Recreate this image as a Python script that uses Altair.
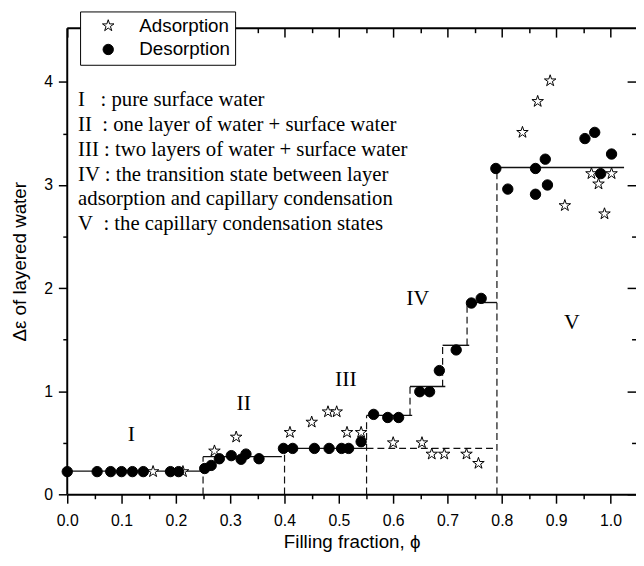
import altair as alt
import pandas as pd

# ---------------- data ----------------
des_x = [0.0, 0.055, 0.08, 0.10, 0.12, 0.14, 0.19, 0.205,
         0.253, 0.265, 0.28, 0.302, 0.32, 0.329, 0.353,
         0.398, 0.415, 0.455, 0.482, 0.505, 0.518, 0.541,
         0.564, 0.59, 0.61,
         0.649, 0.667, 0.685, 0.716, 0.744, 0.762,
         0.789, 0.811, 0.862, 0.862, 0.88, 0.884, 0.953, 0.971, 0.982, 1.002]
des_y = [0.22, 0.22, 0.22, 0.22, 0.22, 0.22, 0.22, 0.22,
         0.25, 0.28, 0.345, 0.375, 0.34, 0.39, 0.345,
         0.445, 0.445, 0.445, 0.445, 0.445, 0.445, 0.51,
         0.775, 0.745, 0.745,
         0.995, 0.995, 1.20, 1.40, 1.855, 1.90,
         3.16, 2.96, 3.16, 2.91, 3.25, 3.00, 3.45, 3.51, 3.11, 3.30]

ads_x = [0.158, 0.213, 0.271, 0.311, 0.41, 0.45, 0.48, 0.496, 0.515, 0.541,
         0.60, 0.653, 0.671, 0.694, 0.735, 0.757,
         0.838, 0.866, 0.889, 0.916, 0.965, 0.978, 0.989, 1.002]
ads_y = [0.22, 0.22, 0.42, 0.555, 0.60, 0.70, 0.80, 0.80, 0.60, 0.60,
         0.50, 0.50, 0.39, 0.39, 0.39, 0.30,
         3.51, 3.81, 4.01, 2.80, 3.11, 3.01, 2.72, 3.11]

series_names = ["Adsorption", "Desorption"]

# step levels (solid) of the layered-water model
solid_x1 = [0.0, 0.25, 0.40, 0.551, 0.631, 0.691, 0.736, 0.789]
solid_x2 = [0.25, 0.395, 0.551, 0.635, 0.696, 0.740, 0.791, 1.025]
solid_y = [0.225, 0.365, 0.445, 0.765, 1.045, 1.445, 1.86, 3.17]

# dashed guide lines
dash_x1 = [0.25, 0.40, 0.551, 0.551, 0.631, 0.691, 0.736, 0.791]
dash_x2 = [0.25, 0.40, 0.551, 0.791, 0.631, 0.691, 0.736, 0.791]
dash_y1 = [0.0, 0.0, 0.0, 0.445, 0.765, 1.045, 1.445, 0.0]
dash_y2 = [0.365, 0.445, 0.765, 0.445, 1.045, 1.445, 1.86, 3.17]

NB = "\u00a0"
note_lines = [
    "I" + NB + NB + " : pure surface water",
    "II" + NB + " : one layer of water + surface water",
    "III : two layers of water + surface water",
    "IV : the transition state between layer",
    "adsorption and capillary condensation",
    "V" + NB + " : the capillary condensation states",
]
note_x = [0.02] * 6
note_y = [3.82, 3.58, 3.34, 3.10, 2.86, 2.62]

region_labels = ["I", "II", "III", "IV", "V"]
region_x = [0.118, 0.325, 0.513, 0.645, 0.929]
region_y = [0.58, 0.88, 1.12, 1.90, 1.67]

x_major = [0.0, 0.1, 0.2, 0.3, 0.4, 0.5, 0.6, 0.7, 0.8, 0.9, 1.0]
x_minor = [0.05, 0.15, 0.25, 0.35, 0.45, 0.55, 0.65, 0.75, 0.85, 0.95]
y_major = [0, 1, 2, 3, 4]
y_minor = [0.5, 1.5, 2.5, 3.5]

X_MAX = 1.047
Y_MAX = 4.52

# ---------------- frames ----------------
pts = pd.DataFrame({
    "x": ads_x + des_x,
    "y": ads_y + des_y,
    "series": ["Adsorption"] * len(ads_x) + ["Desorption"] * len(des_x),
})
solid = pd.DataFrame({"x1": solid_x1, "x2": solid_x2, "y": solid_y})
dashed = pd.DataFrame({"x1": dash_x1, "x2": dash_x2, "y1": dash_y1, "y2": dash_y2})
notes = pd.DataFrame({"x": note_x, "y": note_y, "t": note_lines})
regions = pd.DataFrame({"x": region_x, "y": region_y, "t": region_labels})
# top and left edges of the plotting frame, at the scale-domain limits
frame = pd.DataFrame({"x1": [0.0, 0.0], "x2": [X_MAX, 0.0],
                      "y1": [Y_MAX, 0.0], "y2": [Y_MAX, Y_MAX]})

STAR = ("M0,-1L0.2245,-0.309L0.951,-0.309L0.363,0.118L0.588,0.809L0,0.382"
        "L-0.588,0.809L-0.363,0.118L-0.951,-0.309L-0.2245,-0.309Z")

SANS = "Liberation Sans"
SERIF = "Liberation Serif"

xs = alt.Scale(domain=[0, X_MAX], nice=False, zero=False)
ys = alt.Scale(domain=[0, Y_MAX], nice=False, zero=False)

common = dict(grid=False, tickColor="black", tickWidth=1.5, domainColor="black",
              domainWidth=2, labelColor="black")

ax_bottom_major = alt.Axis(orient="bottom", values=x_major, format=".1f", tickSize=9,
                           labelFont=SANS, labelFontSize=16, labelPadding=10,
                           labelFlush=False, labelOverlap=False,
                           title="Filling fraction, \u03d5", titleFont=SANS,
                           titleFontSize=19, titleFontWeight="normal",
                           titleColor="black", titlePadding=4, **common)
ax_bottom_minor = alt.Axis(orient="bottom", values=x_minor, tickSize=4.5, labels=False,
                           domain=False, title=None, **common)
ax_top_major = alt.Axis(orient="top", values=x_major, offset=-9, tickSize=9,
                        labels=False, domain=False, title=None, **common)
ax_top_minor = alt.Axis(orient="top", values=x_minor, offset=-4.5, tickSize=4.5,
                        labels=False, domain=False, title=None, **common)

ax_left_major = alt.Axis(orient="left", values=y_major, format="d", tickSize=9,
                         labelFont=SANS, labelFontSize=16, labelPadding=6,
                         labelOverlap=False, labelFlush=False, domain=False,
                         title="\u0394\u03b5 of layered water", titleFont=SANS,
                         titleFontSize=19, titleFontWeight="normal",
                         titleColor="black", titlePadding=14, **common)
ax_left_minor = alt.Axis(orient="left", values=y_minor, tickSize=4.5, labels=False,
                         domain=False, title=None, **common)
ax_right_major = alt.Axis(orient="right", values=y_major, offset=-9, tickSize=9,
                          labels=False, domain=False, title=None, **common)
ax_right_minor = alt.Axis(orient="right", values=y_minor, offset=-4.5, tickSize=4.5,
                          labels=False, domain=False, title=None, **common)

# ---------------- layers ----------------
frame_layer = alt.Chart(frame).mark_rule(color="black", strokeWidth=2).encode(
    x=alt.X("x1:Q", scale=xs, axis=None),
    x2="x2:Q",
    y=alt.Y("y1:Q", scale=ys, axis=None),
    y2="y2:Q",
)

solid_layer = alt.Chart(solid).mark_rule(color="#111111", strokeWidth=1.4).encode(
    x=alt.X("x1:Q", scale=xs, axis=ax_bottom_minor),
    x2="x2:Q",
    y=alt.Y("y:Q", scale=ys, axis=ax_left_minor),
)

dash_layer = alt.Chart(dashed).mark_rule(color="#111111", strokeWidth=1.2,
                                         strokeDash=[7, 4]).encode(
    x=alt.X("x1:Q", scale=xs, axis=ax_top_major),
    x2="x2:Q",
    y=alt.Y("y1:Q", scale=ys, axis=ax_right_major),
    y2="y2:Q",
)

note_layer = alt.Chart(notes).mark_text(align="left", baseline="middle", font=SERIF,
                                        fontSize=21, color="black").encode(
    x=alt.X("x:Q", scale=xs, axis=ax_top_minor),
    y=alt.Y("y:Q", scale=ys, axis=ax_right_minor),
    text="t:N",
)

region_layer = alt.Chart(regions).mark_text(align="center", baseline="middle",
                                            font=SERIF, fontSize=22,
                                            color="black").encode(
    x=alt.X("x:Q", scale=xs, axis=None),
    y=alt.Y("y:Q", scale=ys, axis=None),
    text="t:N",
)

leg = alt.Legend(orient="none", legendX=13, legendY=-17, title=None,
                 strokeColor="black", fillColor="white", padding=5,
                 symbolOffset=14, labelOffset=22, rowPadding=4,
                 labelFont=SANS, labelFontSize=19, labelColor="black",
                 symbolStrokeWidth=1,
                 labelExpr="datum.label + '\u00a0\u00a0'")

pt_layer = alt.Chart(pts).mark_point(filled=True, opacity=1, strokeWidth=1).encode(
    x=alt.X("x:Q", scale=xs, axis=ax_bottom_major),
    y=alt.Y("y:Q", scale=ys, axis=ax_left_major),
    fill=alt.Fill("series:N", scale=alt.Scale(domain=series_names,
                                              range=["white", "black"]), legend=leg),
    stroke=alt.Stroke("series:N", scale=alt.Scale(domain=series_names,
                                                  range=["black", "black"]), legend=leg),
    shape=alt.Shape("series:N", scale=alt.Scale(domain=series_names,
                                                range=[STAR, "circle"]), legend=leg),
    size=alt.Size("series:N", scale=alt.Scale(domain=series_names,
                                              range=[150, 110]), legend=leg),
    order=alt.Order("series:N"),
)

chart = alt.layer(frame_layer, solid_layer, dash_layer, note_layer, region_layer,
                  pt_layer).resolve_axis(
    x="independent", y="independent"
).properties(
    width=576, height=472,
    padding={"left": 60, "top": 17, "right": 0, "bottom": 60},
    autosize=alt.AutoSizeParams(type="none"),
    background="white",
).configure_view(stroke=None)

chart.save("out.html", embed_options={"renderer": "svg", "actions": False})
